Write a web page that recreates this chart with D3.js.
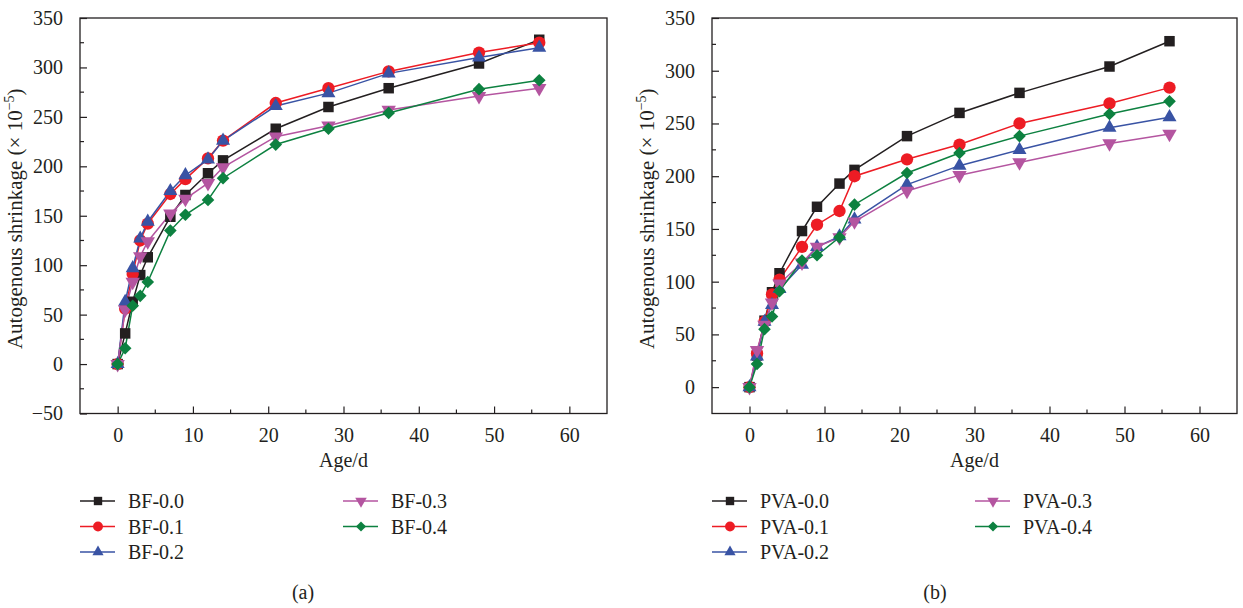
<!DOCTYPE html>
<html><head><meta charset="utf-8">
<script src="https://cdn.jsdelivr.net/npm/d3@7"></script>
<style>
html,body{margin:0;padding:0;background:#fff;}
svg text{font-family:"Liberation Serif","Times New Roman",serif;fill:#231f20;}
</style></head>
<body><svg id="c" width="1243" height="608"></svg>
<script>
const ages = [0, 1, 2, 3, 4, 7, 9, 12, 14, 21, 28, 36, 48, 56];

const bfNames = ["BF-0.0", "BF-0.1", "BF-0.2", "BF-0.3", "BF-0.4"];
const bf00 = [0, 31, 63, 90, 108, 149, 171, 193, 206, 238, 260, 279, 304, 328];
const bf01 = [0, 56, 91, 125, 142, 172, 187, 208, 226, 264, 279, 296, 315, 325];
const bf02 = [0, 63, 97, 127, 144, 175, 191, 207, 226, 261, 274, 294, 310, 320];
const bf03 = [0, 55, 83, 109, 124, 152, 167, 183, 199, 230, 241, 257, 271, 279];
const bf04 = [0, 16, 59, 69, 83, 135, 151, 166, 188, 222, 238, 254, 278, 287];

const pvaNames = ["PVA-0.0", "PVA-0.1", "PVA-0.2", "PVA-0.3", "PVA-0.4"];
const pva00 = [0, 30, 63, 90, 108, 148, 171, 193, 206, 238, 260, 279, 304, 328];
const pva01 = [0, 32, 62, 88, 102, 133, 154, 167, 200, 216, 230, 250, 269, 284];
const pva02 = [0, 29, 62, 78, 93, 116, 133, 143, 159, 192, 210, 225, 246, 256];
const pva03 = [0, 35, 59, 80, 98, 118, 133, 142, 157, 186, 201, 213, 231, 240];
const pva04 = [0, 22, 55, 67, 91, 120, 125, 142, 173, 203, 222, 238, 259, 271];

const xTicks = [0, 10, 20, 30, 40, 50, 60];
const yTicksA = [-50, 0, 50, 100, 150, 200, 250, 300, 350];
const yTicksB = [0, 50, 100, 150, 200, 250, 300, 350];

const colors = ["#231f20", "#ed1c24", "#3953a4", "#b455a0", "#0d8140"];
const shapes = ["square", "circle", "triangle", "down", "diamond"];

const svg = d3.select("#c");
const FS = "20px";

function marker(g, shape, x, y, color, scale) {
  let sym, size, rot = 0;
  if (shape === "square") { sym = d3.symbolSquare; size = 110; }
  else if (shape === "circle") { sym = d3.symbolCircle; size = 120; }
  else if (shape === "triangle") { sym = d3.symbolTriangle; size = 85; }
  else if (shape === "down") { sym = d3.symbolTriangle; size = 90; rot = 180; }
  else { sym = d3.symbolSquare; size = 80; rot = 45; }
  g.append("path")
    .attr("d", d3.symbol().type(sym).size(size * scale * scale)())
    .attr("transform", `translate(${x},${y}) rotate(${rot})`)
    .attr("fill", color);
}

function panel(opts) {
  const { left, right, top, bottom, yDomain, yTicks, series, names, legend, label } = opts;
  const g = svg.append("g");
  const x = d3.scaleLinear().domain([-5, 65]).range([left, right]);
  const y = d3.scaleLinear().domain(yDomain).range([bottom, top]);

  g.append("rect").attr("x", left).attr("y", top)
    .attr("width", right - left).attr("height", bottom - top)
    .attr("fill", "none").attr("stroke", "#231f20").attr("stroke-width", 1.3);

  const xa = g.append("g").attr("transform", `translate(0,${bottom})`)
    .call(d3.axisBottom(x).tickValues(xTicks).tickSizeInner(-7).tickSizeOuter(0).tickPadding(14));
  xa.select(".domain").remove();
  xa.selectAll("line").attr("stroke", "#231f20").attr("stroke-width", 1.2);
  xa.selectAll("text").style("font-size", FS).style("font-family", "Liberation Serif").attr("fill", "#231f20");
  const xMinor = d3.range(5, 60, 10);
  g.append("g").selectAll("line").data(xMinor).join("line")
    .attr("x1", d => x(d)).attr("x2", d => x(d))
    .attr("y1", bottom).attr("y2", bottom - 4)
    .attr("stroke", "#231f20").attr("stroke-width", 1.2);

  const ya = g.append("g").attr("transform", `translate(${left},0)`)
    .call(d3.axisLeft(y).tickValues(yTicks).tickSizeInner(-7).tickSizeOuter(0).tickPadding(17)
      .tickFormat(d => d < 0 ? "\u2212" + Math.abs(d) : d));
  ya.select(".domain").remove();
  ya.selectAll("line").attr("stroke", "#231f20").attr("stroke-width", 1.2);
  ya.selectAll("text").style("font-size", FS).style("font-family", "Liberation Serif").attr("fill", "#231f20");
  const yMinor = d3.range(yDomain[0] < -25 ? -25 : 25, 350, 50);
  g.append("g").selectAll("line").data(yMinor).join("line")
    .attr("x1", left).attr("x2", left + 4)
    .attr("y1", d => y(d)).attr("y2", d => y(d))
    .attr("stroke", "#231f20").attr("stroke-width", 1.2);

  g.append("text").attr("x", (left + right) / 2).attr("y", bottom + 53)
    .attr("text-anchor", "middle").style("font-size", FS).text("Age/d");
  const yt = g.append("text")
    .attr("transform", `translate(${left - 58},${(top + bottom) / 2 + 3}) rotate(-90)`)
    .attr("text-anchor", "middle").style("font-size", "21px");
  yt.append("tspan").text("Autogenous shrinkage (\u00d7 10");
  yt.append("tspan").attr("dy", -8).style("font-size", "14px").text("\u22125");
  yt.append("tspan").attr("dy", 8).text(")");

  const line = d3.line().x((d, i) => x(ages[i])).y(d => y(d));
  series.forEach((vals, k) => {
    g.append("path").attr("d", line(vals)).attr("fill", "none")
      .attr("stroke", colors[k]).attr("stroke-width", 1.5);
  });
  series.forEach((vals, k) => {
    const mg = g.append("g");
    vals.forEach((v, i) => marker(mg, shapes[k], x(ages[i]), y(v), colors[k], 1));
  });

  const rows = [501, 526.5, 552];
  names.forEach((n, k) => {
    const col = k < 3 ? 0 : 1;
    const row = k < 3 ? k : k - 3;
    const lx = legend[col];
    const ly = rows[row];
    g.append("line").attr("x1", lx).attr("x2", lx + 35).attr("y1", ly).attr("y2", ly)
      .attr("stroke", colors[k]).attr("stroke-width", 1.5);
    marker(g, shapes[k], lx + 18, ly, colors[k], 0.8);
    g.append("text").attr("x", lx + 48).attr("y", ly + 7)
      .style("font-size", FS).text(n);
  });

  g.append("text").attr("x", label).attr("y", 599).attr("text-anchor", "middle")
    .style("font-size", FS).text(opts.tag);
}

panel({ left: 80, right: 607, top: 18, bottom: 413.5, yDomain: [-50, 350], yTicks: yTicksA,
  series: [bf00, bf01, bf02, bf03, bf04], names: bfNames, legend: [80, 343], label: 303, tag: "(a)" });
panel({ left: 712, right: 1237, top: 18, bottom: 413.5, yDomain: [-25, 350], yTicks: yTicksB,
  series: [pva00, pva01, pva02, pva03, pva04], names: pvaNames, legend: [712, 975], label: 935, tag: "(b)" });
</script></body></html>
